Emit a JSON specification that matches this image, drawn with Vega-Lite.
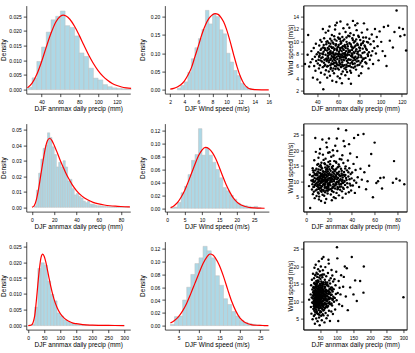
{
"$schema":"https://vega.github.io/schema/vega-lite/v6.json",
"background":"white",
"padding":{"left":0.25,"top":4.6,"right":0,"bottom":0},
"config":{"view":{"stroke":null},"font":"Liberation Sans",
"axis":{"labelFont":"Liberation Sans","titleFont":"Liberation Sans","labelFontSize":5,"titleFontSize":6.5,"titleFontWeight":"normal","labelColor":"#000","titleColor":"#000","domainColor":"#000","tickColor":"#000","domainWidth":0.7,"tickWidth":0.7,"tickSize":3,"grid":false,"labelOverlap":false,"labelFlush":false,"labelBound":false,"titlePadding":1},
"axisX":{"labelPadding":3},
"axisY":{"labelPadding":2,"titleBaseline":"middle"}},
"datasets":{
"h1":[{"a":25,"b":30,"d":0.0008},{"a":30,"b":35,"d":0.004},{"a":35,"b":40,"d":0.0096},{"a":40,"b":45,"d":0.0145},{"a":45,"b":50,"d":0.0196},{"a":50,"b":55,"d":0.0238},{"a":55,"b":60,"d":0.025},{"a":60,"b":65,"d":0.0268},{"a":65,"b":70,"d":0.0218},{"a":70,"b":75,"d":0.0212},{"a":75,"b":80,"d":0.0183},{"a":80,"b":85,"d":0.0125},{"a":85,"b":90,"d":0.0113},{"a":90,"b":95,"d":0.0073},{"a":95,"b":100,"d":0.0039},{"a":100,"b":105,"d":0.0033},{"a":105,"b":110,"d":0.0017},{"a":110,"b":115,"d":0.001},{"a":115,"b":120,"d":0.0006},{"a":120,"b":125,"d":0.0004},{"a":125,"b":130,"d":0.0003},{"a":130,"b":135,"d":0.0002}],
"c1":[{"a":25,"d":0.0006},{"a":30,"d":0.0022},{"a":35,"d":0.0052},{"a":40,"d":0.0095},{"a":45,"d":0.0145},{"a":50,"d":0.0192},{"a":55,"d":0.023},{"a":60,"d":0.025},{"a":63,"d":0.0254},{"a":66,"d":0.0251},{"a":70,"d":0.024},{"a":75,"d":0.0216},{"a":80,"d":0.0185},{"a":85,"d":0.0151},{"a":90,"d":0.0118},{"a":95,"d":0.0089},{"a":100,"d":0.0065},{"a":105,"d":0.0046},{"a":110,"d":0.0032},{"a":115,"d":0.0021},{"a":120,"d":0.0014},{"a":125,"d":0.0009},{"a":130,"d":0.0006},{"a":135,"d":0.0004}],
"h2":[{"a":3,"b":3.5,"d":0.005},{"a":3.5,"b":4,"d":0.012},{"a":4,"b":4.5,"d":0.022},{"a":4.5,"b":5,"d":0.048},{"a":5,"b":5.5,"d":0.085},{"a":5.5,"b":6,"d":0.115},{"a":6,"b":6.5,"d":0.14},{"a":6.5,"b":7,"d":0.165},{"a":7,"b":7.5,"d":0.217},{"a":7.5,"b":8,"d":0.18},{"a":8,"b":8.5,"d":0.207},{"a":8.5,"b":9,"d":0.2},{"a":9,"b":9.5,"d":0.164},{"a":9.5,"b":10,"d":0.153},{"a":10,"b":10.5,"d":0.1},{"a":10.5,"b":11,"d":0.076},{"a":11,"b":11.5,"d":0.053},{"a":11.5,"b":12,"d":0.039},{"a":12,"b":12.5,"d":0.018},{"a":12.5,"b":13,"d":0.009},{"a":13,"b":13.5,"d":0.004},{"a":13.5,"b":14,"d":0.002}],
"c2":[{"a":2,"d":0.002},{"a":2.5,"d":0.004},{"a":3,"d":0.008},{"a":3.5,"d":0.014},{"a":4,"d":0.024},{"a":4.5,"d":0.04},{"a":5,"d":0.06},{"a":5.5,"d":0.09},{"a":6,"d":0.12},{"a":6.5,"d":0.152},{"a":7,"d":0.177},{"a":7.5,"d":0.195},{"a":8,"d":0.205},{"a":8.4,"d":0.208},{"a":8.8,"d":0.206},{"a":9.2,"d":0.198},{"a":9.6,"d":0.185},{"a":10,"d":0.165},{"a":10.5,"d":0.133},{"a":11,"d":0.097},{"a":11.5,"d":0.063},{"a":12,"d":0.035},{"a":12.5,"d":0.016},{"a":13,"d":0.006},{"a":13.5,"d":0.002},{"a":14,"d":0.0006},{"a":15,"d":0.0001},{"a":16,"d":0}],
"h4":[{"a":2,"b":4,"d":0.001},{"a":4,"b":6,"d":0.011},{"a":6,"b":8,"d":0.022},{"a":8,"b":10,"d":0.031},{"a":10,"b":12,"d":0.038},{"a":12,"b":14,"d":0.04},{"a":14,"b":16,"d":0.048},{"a":16,"b":18,"d":0.045},{"a":18,"b":20,"d":0.039},{"a":20,"b":22,"d":0.034},{"a":22,"b":24,"d":0.026},{"a":24,"b":26,"d":0.029},{"a":26,"b":28,"d":0.026},{"a":28,"b":30,"d":0.03},{"a":30,"b":32,"d":0.026},{"a":32,"b":34,"d":0.017},{"a":34,"b":36,"d":0.018},{"a":36,"b":38,"d":0.012},{"a":38,"b":40,"d":0.008},{"a":40,"b":42,"d":0.009},{"a":42,"b":44,"d":0.007},{"a":44,"b":46,"d":0.006},{"a":46,"b":48,"d":0.004},{"a":48,"b":50,"d":0.003},{"a":50,"b":52,"d":0.004},{"a":52,"b":54,"d":0.002},{"a":54,"b":56,"d":0.002},{"a":56,"b":58,"d":0.0015},{"a":58,"b":60,"d":0.001},{"a":60,"b":62,"d":0.001},{"a":62,"b":64,"d":0.0008},{"a":64,"b":66,"d":0.0006},{"a":66,"b":68,"d":0.0005},{"a":68,"b":70,"d":0.0004},{"a":70,"b":72,"d":0.0003},{"a":72,"b":74,"d":0.0003},{"a":74,"b":76,"d":0.0002},{"a":76,"b":78,"d":0.0003},{"a":78,"b":80,"d":0.0002},{"a":80,"b":82,"d":0.0001},{"a":82,"b":84,"d":0.0002},{"a":84,"b":86,"d":0.0001},{"a":86,"b":88,"d":0.0001}],
"c4":[{"a":0,"d":0},{"a":2,"d":0.001},{"a":4,"d":0.005},{"a":6,"d":0.012},{"a":8,"d":0.021},{"a":10,"d":0.03},{"a":12,"d":0.038},{"a":14,"d":0.043},{"a":16,"d":0.0445},{"a":18,"d":0.043},{"a":20,"d":0.04},{"a":22,"d":0.0365},{"a":25,"d":0.031},{"a":28,"d":0.026},{"a":30,"d":0.0228},{"a":33,"d":0.0185},{"a":36,"d":0.0148},{"a":40,"d":0.0108},{"a":45,"d":0.0072},{"a":50,"d":0.0048},{"a":55,"d":0.0032},{"a":60,"d":0.0022},{"a":65,"d":0.0015},{"a":70,"d":0.001},{"a":75,"d":0.0007},{"a":80,"d":0.0005},{"a":88,"d":0.0003}],
"h5":[{"a":1,"b":2,"d":0.001},{"a":2,"b":3,"d":0.002},{"a":3,"b":4,"d":0.009},{"a":4,"b":5,"d":0.024},{"a":5,"b":6,"d":0.034},{"a":6,"b":7,"d":0.052},{"a":7,"b":8,"d":0.074},{"a":8,"b":9,"d":0.083},{"a":9,"b":10,"d":0.123},{"a":10,"b":11,"d":0.082},{"a":11,"b":12,"d":0.093},{"a":12,"b":13,"d":0.082},{"a":13,"b":14,"d":0.071},{"a":14,"b":15,"d":0.06},{"a":15,"b":16,"d":0.047},{"a":16,"b":17,"d":0.032},{"a":17,"b":18,"d":0.027},{"a":18,"b":19,"d":0.02},{"a":19,"b":20,"d":0.014},{"a":20,"b":21,"d":0.008},{"a":21,"b":22,"d":0.005},{"a":22,"b":23,"d":0.004},{"a":23,"b":24,"d":0.003},{"a":24,"b":25,"d":0.002},{"a":25,"b":26,"d":0.003},{"a":26,"b":27,"d":0.001}],
"c5":[{"a":1,"d":0.001},{"a":2,"d":0.004},{"a":3,"d":0.009},{"a":4,"d":0.017},{"a":5,"d":0.027},{"a":6,"d":0.04},{"a":7,"d":0.054},{"a":8,"d":0.068},{"a":9,"d":0.081},{"a":10,"d":0.09},{"a":11,"d":0.094},{"a":12,"d":0.092},{"a":13,"d":0.086},{"a":14,"d":0.076},{"a":15,"d":0.063},{"a":16,"d":0.049},{"a":17,"d":0.036},{"a":18,"d":0.025},{"a":19,"d":0.016},{"a":20,"d":0.01},{"a":21,"d":0.006},{"a":22,"d":0.0035},{"a":23,"d":0.002},{"a":24,"d":0.001},{"a":25,"d":0.0006},{"a":26,"d":0.0003},{"a":28,"d":0.0001}],
"h7":[{"a":10,"b":20,"d":0.0005},{"a":20,"b":30,"d":0.0058},{"a":30,"b":40,"d":0.018},{"a":40,"b":50,"d":0.0198},{"a":50,"b":60,"d":0.019},{"a":60,"b":70,"d":0.014},{"a":70,"b":80,"d":0.0098},{"a":80,"b":90,"d":0.0078},{"a":90,"b":100,"d":0.004},{"a":100,"b":110,"d":0.003},{"a":110,"b":120,"d":0.0018},{"a":120,"b":130,"d":0.0012},{"a":130,"b":140,"d":0.0008},{"a":140,"b":150,"d":0.0006},{"a":150,"b":160,"d":0.0004},{"a":160,"b":170,"d":0.0003},{"a":170,"b":180,"d":0.0003},{"a":180,"b":190,"d":0.0002},{"a":190,"b":200,"d":0.0001},{"a":200,"b":210,"d":0.0001},{"a":210,"b":220,"d":0.0001},{"a":220,"b":230,"d":0.0001},{"a":230,"b":240,"d":0.0001},{"a":240,"b":250,"d":0.0001},{"a":250,"b":260,"d":0.0001},{"a":260,"b":270,"d":0.0001},{"a":270,"b":280,"d":0.0001},{"a":280,"b":290,"d":0.0001},{"a":290,"b":300,"d":0.0001}],
"c7":[{"a":0,"d":0},{"a":10,"d":0.0002},{"a":20,"d":0.003},{"a":25,"d":0.0075},{"a":30,"d":0.013},{"a":35,"d":0.018},{"a":40,"d":0.0215},{"a":45,"d":0.0225},{"a":50,"d":0.0218},{"a":55,"d":0.02},{"a":60,"d":0.0175},{"a":65,"d":0.015},{"a":70,"d":0.0125},{"a":80,"d":0.0085},{"a":90,"d":0.0057},{"a":100,"d":0.0038},{"a":110,"d":0.0026},{"a":120,"d":0.0018},{"a":130,"d":0.0012},{"a":140,"d":0.0008},{"a":150,"d":0.0006},{"a":170,"d":0.0003},{"a":200,"d":0.00015},{"a":250,"d":0.00005},{"a":300,"d":0.00002}],
"h8":[{"a":3,"b":4,"d":0.002},{"a":4,"b":5,"d":0.014},{"a":5,"b":6,"d":0.015},{"a":6,"b":7,"d":0.04},{"a":7,"b":8,"d":0.06},{"a":8,"b":9,"d":0.08},{"a":9,"b":10,"d":0.097},{"a":10,"b":11,"d":0.106},{"a":11,"b":12,"d":0.124},{"a":12,"b":13,"d":0.117},{"a":13,"b":14,"d":0.106},{"a":14,"b":15,"d":0.078},{"a":15,"b":16,"d":0.063},{"a":16,"b":17,"d":0.042},{"a":17,"b":18,"d":0.033},{"a":18,"b":19,"d":0.022},{"a":19,"b":20,"d":0.015},{"a":20,"b":21,"d":0.008},{"a":21,"b":22,"d":0.005},{"a":22,"b":23,"d":0.003},{"a":23,"b":24,"d":0.002},{"a":24,"b":25,"d":0.001},{"a":25,"b":26,"d":0.0005}],
"c8":[{"a":3,"d":0.004},{"a":4,"d":0.008},{"a":5,"d":0.014},{"a":6,"d":0.023},{"a":7,"d":0.035},{"a":8,"d":0.05},{"a":9,"d":0.066},{"a":10,"d":0.082},{"a":11,"d":0.097},{"a":12,"d":0.108},{"a":12.7,"d":0.112},{"a":13.5,"d":0.11},{"a":14,"d":0.106},{"a":15,"d":0.094},{"a":16,"d":0.077},{"a":17,"d":0.057},{"a":18,"d":0.038},{"a":19,"d":0.023},{"a":20,"d":0.012},{"a":21,"d":0.006},{"a":22,"d":0.0028},{"a":23,"d":0.0012},{"a":24,"d":0.0005},{"a":25,"d":0.0002},{"a":26,"d":0.0001},{"a":27,"d":0}],
"s1":[{"p":28.5,"w":6.3},{"p":31,"w":7.8},{"p":32.5,"w":5.9},{"p":33.8,"w":6.6},{"p":34.5,"w":8.4},{"p":35.5,"w":7.1},{"p":36,"w":4.1},{"p":36.8,"w":8.9},{"p":37.2,"w":6},{"p":37.9,"w":7.5},{"p":38.4,"w":5.2},{"p":38.8,"w":9.6},{"p":39.1,"w":6.8},{"p":39.6,"w":7.9},{"p":31.5,"w":11},{"p":40.2,"w":3.8},{"p":40.6,"w":6.4},{"p":41,"w":8.2},{"p":41.3,"w":7},{"p":41.7,"w":5.6},{"p":42,"w":9.3},{"p":42.3,"w":7.7},{"p":42.6,"w":6.1},{"p":43,"w":10.2},{"p":43.3,"w":8.6},{"p":43.6,"w":4.9},{"p":43.9,"w":7.3},{"p":44.2,"w":9.9},{"p":44.5,"w":6.7},{"p":44.8,"w":8},{"p":42.8,"w":3.3},{"p":45.1,"w":7.4},{"p":45.3,"w":5.8},{"p":45.6,"w":9},{"p":45.8,"w":2.2},{"p":46.1,"w":8.3},{"p":46.4,"w":6.5},{"p":46.6,"w":10.5},{"p":46.9,"w":7},{"p":47.1,"w":4.6},{"p":47.4,"w":8.8},{"p":47.6,"w":6.2},{"p":47.9,"w":7.8},{"p":48.1,"w":11.4},{"p":48.3,"w":5.3},{"p":48.6,"w":9.5},{"p":48.8,"w":7.2},{"p":49,"w":6.8},{"p":49.3,"w":8.5},{"p":49.5,"w":4.1},{"p":49.7,"w":10},{"p":49.9,"w":7.6},{"p":45.4,"w":12},{"p":50.1,"w":6},{"p":50.3,"w":8.1},{"p":50.6,"w":7.3},{"p":50.8,"w":9.7},{"p":51,"w":5.1},{"p":51.2,"w":8.7},{"p":51.5,"w":6.9},{"p":51.7,"w":12.4},{"p":51.9,"w":7.9},{"p":52.1,"w":4.4},{"p":52.3,"w":10.4},{"p":52.6,"w":7},{"p":52.8,"w":8.4},{"p":53,"w":5.7},{"p":53.2,"w":9.1},{"p":53.5,"w":6.4},{"p":53.7,"w":7.6},{"p":53.9,"w":11},{"p":54.1,"w":8.9},{"p":54.3,"w":3.6},{"p":54.5,"w":6.8},{"p":54.7,"w":9.8},{"p":54.9,"w":7.4},{"p":50.5,"w":11.7},{"p":52.4,"w":6.1},{"p":53.4,"w":8},{"p":54.6,"w":5.2},{"p":55.1,"w":8.2},{"p":55.3,"w":6.3},{"p":55.5,"w":9.6},{"p":55.7,"w":7.1},{"p":55.9,"w":4.8},{"p":56.1,"w":10.8},{"p":56.3,"w":7.7},{"p":56.5,"w":8.8},{"p":56.7,"w":6},{"p":56.9,"w":11.9},{"p":57.1,"w":7.3},{"p":57.3,"w":5.5},{"p":57.5,"w":9.3},{"p":57.7,"w":8},{"p":57.9,"w":6.6},{"p":58.1,"w":3.4},{"p":58.3,"w":10.1},{"p":58.5,"w":7.5},{"p":58.6,"w":13},{"p":58.8,"w":8.5},{"p":59,"w":6.2},{"p":59.2,"w":9},{"p":59.4,"w":4.3},{"p":59.6,"w":7.9},{"p":59.8,"w":10.6},{"p":55.6,"w":7.9},{"p":57.2,"w":12.6},{"p":58,"w":5.9},{"p":60.1,"w":7.6},{"p":60.3,"w":9.4},{"p":60.5,"w":5.4},{"p":60.7,"w":8.3},{"p":60.9,"w":6.8},{"p":61.1,"w":11.2},{"p":61.3,"w":7.2},{"p":61.5,"w":4},{"p":61.7,"w":8.9},{"p":61.9,"w":6.3},{"p":62,"w":13.2},{"p":62.2,"w":10},{"p":62.4,"w":7.8},{"p":62.6,"w":5.8},{"p":62.8,"w":9.7},{"p":63,"w":7},{"p":63.2,"w":8.4},{"p":63.4,"w":3.2},{"p":63.6,"w":6.6},{"p":63.8,"w":10.7},{"p":64,"w":8},{"p":64.2,"w":5.1},{"p":64.4,"w":9.2},{"p":64.6,"w":7.4},{"p":64.8,"w":12.1},{"p":60.6,"w":6.1},{"p":61.6,"w":10.4},{"p":62.9,"w":4.7},{"p":63.9,"w":7.7},{"p":64.5,"w":6},{"p":65.1,"w":8.6},{"p":65.3,"w":6.9},{"p":65.6,"w":10.3},{"p":65.8,"w":5.6},{"p":66.1,"w":7.9},{"p":66.3,"w":9.1},{"p":66.6,"w":4.5},{"p":66.8,"w":11.5},{"p":67.1,"w":7.3},{"p":67.3,"w":8.4},{"p":67.6,"w":6.2},{"p":67.8,"w":9.9},{"p":68.1,"w":7.7},{"p":68.3,"w":5},{"p":68.6,"w":12.7},{"p":68.8,"w":8.8},{"p":69.1,"w":6.5},{"p":69.3,"w":10.9},{"p":69.6,"w":7.1},{"p":69.8,"w":3.9},{"p":65.4,"w":7.5},{"p":66.4,"w":8.1},{"p":67.4,"w":5.8},{"p":68.4,"w":9.5},{"p":69.4,"w":8.2},{"p":70.2,"w":7.8},{"p":70.5,"w":9.7},{"p":70.8,"w":6},{"p":71.1,"w":8.5},{"p":71.4,"w":11.3},{"p":71.7,"w":7},{"p":72,"w":4.9},{"p":72.3,"w":9.2},{"p":72.6,"w":8},{"p":72.9,"w":6.6},{"p":73.2,"w":10.5},{"p":73.5,"w":7.4},{"p":73.8,"w":13.3},{"p":74.1,"w":8.9},{"p":74.4,"w":5.7},{"p":74.7,"w":9.8},{"p":70.4,"w":12.2},{"p":71.2,"w":5.2},{"p":72.4,"w":7.6},{"p":73,"w":8.6},{"p":73.7,"w":6.3},{"p":74.5,"w":11},{"p":71.9,"w":3.1},{"p":75.2,"w":8.1},{"p":75.5,"w":6.4},{"p":75.8,"w":10},{"p":76.1,"w":7.5},{"p":76.4,"w":9.3},{"p":76.7,"w":5.4},{"p":77,"w":8.7},{"p":77.3,"w":11.8},{"p":77.6,"w":7.2},{"p":77.9,"w":9.6},{"p":78.2,"w":6.1},{"p":78.5,"w":8.3},{"p":78.8,"w":10.9},{"p":79.1,"w":7.8},{"p":79.4,"w":4.4},{"p":79.7,"w":9},{"p":76,"w":12.6},{"p":78,"w":12.9},{"p":75.9,"w":7},{"p":79,"w":6.8},{"p":80.3,"w":8.5},{"p":80.7,"w":10.2},{"p":81,"w":6.5},{"p":81.4,"w":9.4},{"p":81.8,"w":7.4},{"p":82.2,"w":11.4},{"p":82.6,"w":5.9},{"p":83,"w":8.8},{"p":83.4,"w":7.1},{"p":83.8,"w":10},{"p":84.2,"w":12.9},{"p":84.6,"w":8.2},{"p":81.5,"w":4.8},{"p":83.2,"w":9.7},{"p":85.3,"w":9.1},{"p":85.7,"w":7.3},{"p":86.1,"w":10.6},{"p":86.5,"w":6.4},{"p":86.9,"w":8.6},{"p":87.3,"w":11.9},{"p":87.7,"w":7.9},{"p":88.1,"w":9.8},{"p":88.5,"w":5.6},{"p":88.9,"w":8.2},{"p":89.3,"w":10.4},{"p":89.7,"w":7},{"p":90.4,"w":9.5},{"p":91,"w":7.7},{"p":91.6,"w":11.1},{"p":92.2,"w":8.4},{"p":92.8,"w":6.3},{"p":93.4,"w":10},{"p":94,"w":8.9},{"p":94.6,"w":12},{"p":95.5,"w":8},{"p":96.3,"w":10.7},{"p":97.1,"w":9.2},{"p":98,"w":6.9},{"p":99,"w":11.6},{"p":100.5,"w":9.9},{"p":101.8,"w":8.4},{"p":103,"w":12.3},{"p":104.2,"w":7.6},{"p":105.5,"w":6},{"p":107,"w":12.5},{"p":108.6,"w":10.1},{"p":111.5,"w":9},{"p":113,"w":11.5},{"p":115,"w":15},{"p":117.5,"w":12.2},{"p":118.5,"w":10.8},{"p":121,"w":12},{"p":122.5,"w":11},{"p":124,"w":8.5},
{"p":45.5,"w":7.9},{"p":46.2,"w":9.4},{"p":46.8,"w":6},{"p":47.5,"w":8.6},{"p":48.2,"w":7.1},{"p":48.7,"w":9.9},{"p":49.4,"w":5.9},{"p":50,"w":8.9},{"p":50.4,"w":7.7},{"p":51.1,"w":6.6},{"p":51.6,"w":9.2},{"p":52,"w":8.2},{"p":52.7,"w":5.5},{"p":53.1,"w":7.2},{"p":53.6,"w":10.1},{"p":54,"w":6.3},{"p":54.4,"w":8.1},{"p":55,"w":9},{"p":55.4,"w":5.6},{"p":55.8,"w":7.4},{"p":56.2,"w":8.6},{"p":56.6,"w":10.3},{"p":57,"w":6.9},{"p":57.4,"w":7.9},{"p":57.8,"w":9.5},{"p":58.2,"w":6.4},{"p":58.7,"w":8.7},{"p":59.1,"w":7.1},{"p":59.5,"w":5.6},{"p":59.9,"w":9.1},{"p":60.2,"w":8},{"p":60.6,"w":10.4},{"p":61,"w":6.5},{"p":61.4,"w":7.5},{"p":61.8,"w":8.6},{"p":62.1,"w":9.6},{"p":62.5,"w":5.9},{"p":62.9,"w":7.4},{"p":63.3,"w":9},{"p":63.7,"w":6.2},{"p":64.1,"w":8.8},{"p":64.5,"w":10.1},{"p":64.9,"w":7},{"p":65.3,"w":8},{"p":65.7,"w":6.1},{"p":66.1,"w":9.4},{"p":66.5,"w":7.6},{"p":66.9,"w":8.9},{"p":67.3,"w":5.4},{"p":67.7,"w":10.6},{"p":68.1,"w":6.8},{"p":68.5,"w":7.9},{"p":68.9,"w":9.2},{"p":69.3,"w":6},{"p":69.7,"w":8.5},{"p":70.1,"w":7},{"p":70.5,"w":10.8},{"p":70.9,"w":8.3},{"p":71.3,"w":6.4},{"p":71.7,"w":9.5},{"p":72.1,"w":7.6},{"p":72.5,"w":5.8},{"p":72.9,"w":9},{"p":73.3,"w":7.8},{"p":73.7,"w":10.2},{"p":74.1,"w":6.9},{"p":74.5,"w":8.2},{"p":74.9,"w":7.3},{"p":75.4,"w":9.1},{"p":75.9,"w":5.9},{"p":76.4,"w":8.4},{"p":76.9,"w":10.3},{"p":77.4,"w":6.7},{"p":77.9,"w":8},{"p":78.4,"w":9.4},{"p":78.9,"w":7.4},{"p":79.4,"w":10.7},{"p":79.9,"w":6.2},{"p":80.5,"w":8.9},{"p":81.1,"w":7.7},{"p":81.7,"w":9.6},{"p":82.3,"w":6.8},{"p":82.9,"w":8.1},{"p":83.5,"w":10.6},{"p":84.1,"w":7.2},{"p":84.8,"w":9.3},{"p":85.5,"w":6.6},{"p":86.2,"w":8.8},{"p":87,"w":9.9},{"p":88,"w":7.6},{"p":44,"w":8.8},{"p":43.2,"w":6.9},{"p":42.5,"w":8},{"p":41.8,"w":7.5},{"p":46.9,"w":8.9},{"p":49.8,"w":7},{"p":52.5,"w":9.6},{"p":56,"w":6.5},{"p":61.2,"w":7.9},{"p":67,"w":7.2}],
"s2":[{"p":2.5,"w":8.4},{"p":3.2,"w":12.1},{"p":3.5,"w":1.3},{"p":4.6,"w":10.2},{"p":5.1,"w":7.3},{"p":5.3,"w":11.6},{"p":5.5,"w":9},{"p":5.7,"w":14.2},{"p":5.9,"w":5.8},{"p":6.1,"w":10.4},{"p":6.3,"w":8.1},{"p":6.5,"w":12.9},{"p":6.7,"w":6.6},{"p":6.9,"w":9.7},{"p":7.1,"w":16.8},{"p":7.3,"w":11},{"p":7.5,"w":4.5},{"p":7.7,"w":8.7},{"p":7.9,"w":13.5},{"p":8.1,"w":10.1},{"p":8.3,"w":7},{"p":8.5,"w":19.5},{"p":8.7,"w":11.9},{"p":8.9,"w":9.3},{"p":9.1,"w":5.2},{"p":9.3,"w":12.5},{"p":9.5,"w":8.4},{"p":9.7,"w":15.3},{"p":9.9,"w":10.7},{"p":8,"w":24},{"p":10.1,"w":9.6},{"p":10.2,"w":13.1},{"p":10.4,"w":6.3},{"p":10.5,"w":11.2},{"p":10.7,"w":8},{"p":10.8,"w":17.6},{"p":11,"w":10.3},{"p":11.1,"w":7.5},{"p":11.3,"w":12.7},{"p":11.4,"w":5},{"p":11.6,"w":9.1},{"p":11.7,"w":14.8},{"p":11.9,"w":11.5},{"p":12,"w":8.6},{"p":12.2,"w":20.4},{"p":12.3,"w":10},{"p":12.5,"w":6.9},{"p":12.6,"w":13.6},{"p":12.8,"w":9.4},{"p":12.9,"w":12},{"p":13.1,"w":3.6},{"p":13.2,"w":10.8},{"p":13.4,"w":16},{"p":13.5,"w":8.3},{"p":13.7,"w":11.7},{"p":13.8,"w":7.2},{"p":14,"w":14.1},{"p":14.1,"w":9.8},{"p":14.3,"w":12.4},{"p":14.4,"w":5.6},{"p":14.6,"w":10.5},{"p":14.7,"w":18.6},{"p":14.9,"w":8.9},{"p":10.6,"w":15.6},{"p":11.2,"w":4.1},{"p":11.8,"w":19},{"p":12.4,"w":11},{"p":13,"w":7.9},{"p":13.6,"w":12.2},{"p":14.2,"w":23.5},{"p":14.8,"w":11.4},{"p":10.9,"w":9.9},{"p":12.7,"w":15.2},{"p":13.9,"w":10.2},{"p":15.1,"w":10},{"p":15.2,"w":7.1},{"p":15.4,"w":13},{"p":15.5,"w":9.2},{"p":15.7,"w":11.8},{"p":15.8,"w":5.3},{"p":16,"w":15.8},{"p":16.1,"w":8.5},{"p":16.3,"w":12.3},{"p":16.4,"w":10.6},{"p":16.6,"w":6.4},{"p":16.7,"w":14.4},{"p":16.9,"w":9.5},{"p":17,"w":17.3},{"p":17.2,"w":11.1},{"p":17.3,"w":8},{"p":17.5,"w":13.7},{"p":17.6,"w":4.2},{"p":17.8,"w":10.4},{"p":17.9,"w":12.8},{"p":18.1,"w":7.7},{"p":18.2,"w":21},{"p":18.4,"w":9.8},{"p":18.5,"w":15},{"p":18.7,"w":11.5},{"p":18.8,"w":6},{"p":19,"w":13.2},{"p":19.1,"w":8.8},{"p":19.3,"w":19.2},{"p":19.4,"w":10.9},{"p":19.6,"w":7.4},{"p":19.7,"w":12},{"p":19.9,"w":9},{"p":15.3,"w":16.9},{"p":15.9,"w":11.3},{"p":16.5,"w":3},{"p":17.1,"w":9.7},{"p":17.7,"w":22.5},{"p":18.3,"w":13.9},{"p":18.9,"w":10.3},{"p":19.5,"w":16.2},{"p":16.2,"w":7.9},{"p":17.4,"w":12.1},{"p":18.6,"w":8.3},{"p":19.8,"w":14.7},{"p":20,"w":23.8},{"p":20.2,"w":9.4},{"p":20.4,"w":12.6},{"p":20.6,"w":7.3},{"p":20.8,"w":11},{"p":21,"w":15.5},{"p":21.2,"w":8.7},{"p":21.4,"w":13.4},{"p":21.6,"w":5.7},{"p":21.8,"w":10.2},{"p":22,"w":17.9},{"p":22.2,"w":9.9},{"p":22.4,"w":12.2},{"p":22.6,"w":6.8},{"p":22.8,"w":14.3},{"p":23,"w":10.7},{"p":23.2,"w":8.2},{"p":23.4,"w":20},{"p":23.6,"w":11.6},{"p":23.8,"w":9},{"p":24,"w":13.8},{"p":24.2,"w":4.8},{"p":24.4,"w":10.5},{"p":24.6,"w":16.5},{"p":24.8,"w":8.5},{"p":20.5,"w":19.4},{"p":21.5,"w":11.9},{"p":22.5,"w":3.8},{"p":23.5,"w":14.9},{"p":24.5,"w":12.4},{"p":21.1,"w":10.1},{"p":22.9,"w":7.7},{"p":23.9,"w":18.3},{"p":24.9,"w":11.2},{"p":25.2,"w":10.8},{"p":25.4,"w":7.6},{"p":25.6,"w":13.6},{"p":25.9,"w":9.3},{"p":26.1,"w":16.3},{"p":26.3,"w":11.4},{"p":26.6,"w":6.2},{"p":26.8,"w":12.7},{"p":27,"w":9.7},{"p":27.3,"w":19.8},{"p":27.5,"w":8.1},{"p":27.7,"w":14.5},{"p":28,"w":11},{"p":28.2,"w":27},{"p":28.4,"w":10},{"p":28.7,"w":5.4},{"p":28.9,"w":13.1},{"p":29.1,"w":8.9},{"p":29.4,"w":17.2},{"p":29.6,"w":11.8},{"p":29.8,"w":7.2},{"p":25.5,"w":21.5},{"p":26.5,"w":9},{"p":27.4,"w":12.3},{"p":28.5,"w":15.4},{"p":29.5,"w":10.4},{"p":25.8,"w":4.5},{"p":27.9,"w":7.8},{"p":26.9,"w":23.8},{"p":29,"w":12},{"p":30.2,"w":10.6},{"p":30.5,"w":14},{"p":30.8,"w":8.3},{"p":31.1,"w":12.5},{"p":31.4,"w":6.7},{"p":31.7,"w":18.4},{"p":32,"w":11.2},{"p":32.3,"w":9.4},{"p":32.6,"w":15.9},{"p":32.9,"w":7.5},{"p":33.2,"w":13},{"p":33.5,"w":10.1},{"p":33.8,"w":21.3},{"p":34.1,"w":8.8},{"p":34.4,"w":12},{"p":34.7,"w":5.9},{"p":30.9,"w":17},{"p":31.9,"w":4.6},{"p":32.8,"w":23},{"p":33.7,"w":11.7},{"p":34.6,"w":14.8},{"p":35,"w":26.5},{"p":31.2,"w":9.9},{"p":35.4,"w":10.4},{"p":35.8,"w":13.5},{"p":36.2,"w":8},{"p":36.6,"w":16.7},{"p":37,"w":11.5},{"p":37.4,"w":6.4},{"p":37.8,"w":14.2},{"p":38.2,"w":9.2},{"p":38.6,"w":19},{"p":39,"w":12.3},{"p":39.4,"w":7},{"p":39.8,"w":10.9},{"p":37.6,"w":22},{"p":40.3,"w":12.8},{"p":40.9,"w":8.6},{"p":41.5,"w":15.6},{"p":42.1,"w":10.2},{"p":42,"w":24},{"p":42.7,"w":6.2},{"p":43.3,"w":13.6},{"p":43.9,"w":9.5},{"p":44.5,"w":17.8},{"p":45.2,"w":11.3},{"p":45.5,"w":25},{"p":46.4,"w":8.1},{"p":47.6,"w":14},{"p":48.8,"w":10.5},{"p":50.3,"w":25.3},{"p":51,"w":12.9},{"p":52.5,"w":7.4},{"p":53.8,"w":10},{"p":55.2,"w":15},{"p":57,"w":18.8},{"p":58.5,"w":4.8},{"p":60,"w":22.5},{"p":61.5,"w":9.4},{"p":63,"w":10},{"p":65,"w":11},{"p":66.5,"w":7.6},{"p":68,"w":11.2},{"p":76,"w":9.5},{"p":77,"w":16.5},{"p":79,"w":10.8},{"p":82,"w":10.2},{"p":86,"w":9},
{"p":5.8,"w":9.9},{"p":6.4,"w":11.8},{"p":7,"w":8.2},{"p":7.6,"w":12.3},{"p":8.2,"w":9},{"p":8.8,"w":10.8},{"p":9.4,"w":7.3},{"p":10,"w":12},{"p":10.3,"w":8.8},{"p":10.9,"w":13.8},{"p":11.5,"w":10.6},{"p":12.1,"w":7.7},{"p":12.5,"w":12.6},{"p":13,"w":9.7},{"p":13.3,"w":14.5},{"p":13.9,"w":8.4},{"p":14.4,"w":11.1},{"p":14.8,"w":13.2},{"p":15.3,"w":6.9},{"p":15.6,"w":10.3},{"p":16,"w":12},{"p":16.4,"w":8.9},{"p":16.8,"w":13.1},{"p":17.2,"w":10},{"p":17.6,"w":7},{"p":18,"w":11.7},{"p":18.4,"w":14.2},{"p":18.8,"w":9.1},{"p":19.2,"w":12.4},{"p":19.6,"w":8.1},{"p":20.1,"w":10.8},{"p":20.5,"w":13.9},{"p":20.9,"w":9.6},{"p":21.3,"w":12},{"p":21.7,"w":7.5},{"p":22.1,"w":11.3},{"p":22.5,"w":14.6},{"p":22.9,"w":9.9},{"p":23.3,"w":12.9},{"p":23.7,"w":8},{"p":24.1,"w":11.5},{"p":24.5,"w":10},{"p":25,"w":13.2},{"p":25.5,"w":8.7},{"p":26,"w":11.9},{"p":26.5,"w":14},{"p":27,"w":10.6},{"p":27.5,"w":7.4},{"p":28,"w":12.6},{"p":28.5,"w":9.5},{"p":29,"w":14.8},{"p":29.5,"w":8.2},{"p":30,"w":11.6},{"p":30.6,"w":9.1},{"p":31.2,"w":13.4},{"p":31.8,"w":10.4},{"p":32.4,"w":7.9},{"p":33,"w":12.1},{"p":33.6,"w":9.8},{"p":34.2,"w":14.1},{"p":35,"w":11},{"p":36,"w":9.3},{"p":37,"w":12.9},{"p":38,"w":10.6},{"p":39,"w":8.6},{"p":6,"w":13.5},{"p":9,"w":14},{"p":11,"w":6},{"p":13.5,"w":6.6},{"p":16.6,"w":15.5},{"p":19,"w":6.9},{"p":21,"w":16.5},{"p":24,"w":6.5},{"p":26.4,"w":16},{"p":12,"w":11.4},{"p":15,"w":11.9},{"p":18.2,"w":10.5},{"p":22,"w":10.6},{"p":27.8,"w":11.1},{"p":31.5,"w":11.9}],
"s3":[{"p":17,"w":10.5},{"p":21.5,"w":12},{"p":22.3,"w":8.4},{"p":23.1,"w":14.6},{"p":23.9,"w":6.5},{"p":24.6,"w":11.1},{"p":25.4,"w":16.2},{"p":26,"w":9.7},{"p":26.7,"w":13.4},{"p":27.3,"w":4.9},{"p":27.9,"w":10.8},{"p":28.5,"w":17.9},{"p":29.2,"w":12.6},{"p":29.8,"w":7.8},{"p":30.2,"w":11.4},{"p":30.4,"w":14.1},{"p":30.7,"w":8.6},{"p":30.9,"w":12.9},{"p":31.2,"w":5.8},{"p":31.4,"w":10.2},{"p":31.7,"w":16.6},{"p":31.9,"w":9.1},{"p":32.2,"w":13.7},{"p":32.4,"w":7.3},{"p":32.7,"w":11.9},{"p":32.9,"w":19.6},{"p":33.2,"w":10.5},{"p":33.4,"w":15.3},{"p":33.7,"w":8.1},{"p":33.9,"w":12.4},{"p":34.2,"w":3.6},{"p":34.4,"w":11},{"p":34.7,"w":14.9},{"p":34.9,"w":9.6},{"p":35.2,"w":17.4},{"p":35.4,"w":12.2},{"p":35.7,"w":6.9},{"p":35.9,"w":10.9},{"p":36.2,"w":13.3},{"p":36.4,"w":8.8},{"p":36.7,"w":20.5},{"p":36.9,"w":11.6},{"p":37.2,"w":7.7},{"p":37.4,"w":14.4},{"p":37.7,"w":10},{"p":37.9,"w":12.8},{"p":38.2,"w":5.1},{"p":38.4,"w":15.8},{"p":38.7,"w":9.3},{"p":38.9,"w":11.3},{"p":39.2,"w":18.2},{"p":39.4,"w":8.3},{"p":39.7,"w":13},{"p":39.9,"w":10.6},{"p":40.1,"w":12.1},{"p":40.3,"w":7},{"p":40.6,"w":15.1},{"p":40.8,"w":9.8},{"p":41,"w":11.5},{"p":41.3,"w":17},{"p":41.5,"w":8.7},{"p":41.7,"w":13.6},{"p":42,"w":10.3},{"p":42.2,"w":4.3},{"p":42.4,"w":12.6},{"p":42.7,"w":16},{"p":42.9,"w":9},{"p":43.1,"w":11.8},{"p":43.3,"w":14.3},{"p":43.6,"w":6.4},{"p":43.8,"w":10.7},{"p":44,"w":19.2},{"p":44.2,"w":12.9},{"p":44.5,"w":8.2},{"p":44.7,"w":13.9},{"p":44.9,"w":11.1},{"p":45.1,"w":9.5},{"p":45.4,"w":15.6},{"p":45.6,"w":7.5},{"p":45.8,"w":12.3},{"p":46,"w":21.5},{"p":46.3,"w":10.1},{"p":46.5,"w":13.2},{"p":46.7,"w":5.4},{"p":46.9,"w":11.7},{"p":47.2,"w":16.8},{"p":47.4,"w":9.2},{"p":47.6,"w":12.5},{"p":47.8,"w":8},{"p":48.1,"w":14.7},{"p":48.3,"w":10.8},{"p":48.5,"w":3.2},{"p":48.7,"w":13},{"p":49,"w":18.6},{"p":49.2,"w":9.9},{"p":49.4,"w":11.4},{"p":49.6,"w":6.8},{"p":49.8,"w":14},{"p":50.1,"w":10.4},{"p":50.4,"w":13.5},{"p":50.6,"w":8.4},{"p":50.9,"w":16.4},{"p":51.1,"w":11.9},{"p":51.4,"w":7.2},{"p":51.6,"w":12.8},{"p":51.9,"w":9.7},{"p":52.1,"w":20},{"p":52.4,"w":11.2},{"p":52.6,"w":14.5},{"p":52.9,"w":5.9},{"p":53.1,"w":10.6},{"p":53.4,"w":13.1},{"p":53.6,"w":8.9},{"p":53.9,"w":17.5},{"p":54.1,"w":12.2},{"p":54.4,"w":9.4},{"p":54.6,"w":15.2},{"p":54.9,"w":4.6},{"p":55.1,"w":11.6},{"p":55.4,"w":22.2},{"p":55.6,"w":10},{"p":55.9,"w":13.8},{"p":56.1,"w":7.8},{"p":56.4,"w":12.7},{"p":56.6,"w":16.9},{"p":56.9,"w":9.1},{"p":57.1,"w":11},{"p":57.4,"w":14.2},{"p":57.6,"w":6.3},{"p":57.9,"w":10.9},{"p":58.1,"w":18.9},{"p":58.4,"w":12.4},{"p":58.6,"w":8.6},{"p":58.9,"w":13.4},{"p":59.1,"w":10.2},{"p":59.4,"w":15.5},{"p":59.6,"w":7.4},{"p":59.9,"w":11.8},{"p":60,"w":22.7},{"p":60.3,"w":12},{"p":60.6,"w":9},{"p":61,"w":14.8},{"p":61.3,"w":10.7},{"p":61.6,"w":17.7},{"p":62,"w":7.6},{"p":62.3,"w":12.9},{"p":62.6,"w":11.3},{"p":63,"w":4},{"p":63.3,"w":13.7},{"p":63.6,"w":9.6},{"p":64,"w":16.2},{"p":64.3,"w":11.5},{"p":64.6,"w":8.1},{"p":65,"w":14.1},{"p":65.3,"w":10.3},{"p":65.6,"w":19.8},{"p":66,"w":12.6},{"p":66.3,"w":6.7},{"p":66.6,"w":11},{"p":67,"w":15},{"p":67.3,"w":9.3},{"p":67.6,"w":13.3},{"p":68,"w":8.5},{"p":68.3,"w":17.2},{"p":68.6,"w":11.7},{"p":69,"w":5.2},{"p":69.3,"w":12.3},{"p":69.6,"w":10},{"p":69.9,"w":14.6},{"p":70.4,"w":11.6},{"p":70.9,"w":8.3},{"p":71.4,"w":15.4},{"p":71.9,"w":10.5},{"p":72.4,"w":13},{"p":72.9,"w":6},{"p":73.4,"w":18.1},{"p":73.9,"w":12.2},{"p":74.4,"w":9.5},{"p":74.9,"w":14.3},{"p":75.4,"w":10.9},{"p":75.9,"w":20.8},{"p":76.4,"w":7.3},{"p":76.9,"w":12.7},{"p":77.4,"w":16},{"p":77.9,"w":9.8},{"p":78.4,"w":13.6},{"p":78.9,"w":11.1},{"p":79.4,"w":4.4},{"p":79.9,"w":15.1},{"p":75,"w":21.9},{"p":80.5,"w":12.5},{"p":81.1,"w":9.2},{"p":81.7,"w":16.6},{"p":82.3,"w":10.8},{"p":82.9,"w":14},{"p":83.5,"w":7.1},{"p":84.1,"w":19},{"p":84.7,"w":11.9},{"p":85.3,"w":13.2},{"p":85.9,"w":8.8},{"p":86.5,"w":17.4},{"p":87.1,"w":10.4},{"p":87.7,"w":12.8},{"p":88.3,"w":6.4},{"p":88.9,"w":15.7},{"p":89.5,"w":11.3},{"p":90.6,"w":13.5},{"p":91.7,"w":9.9},{"p":92.8,"w":16.3},{"p":93.9,"w":11},{"p":95,"w":7.7},{"p":96.1,"w":14.6},{"p":97.2,"w":12.1},{"p":98.3,"w":18.5},{"p":99.4,"w":10.3},{"p":100.5,"w":25.5},{"p":101.5,"w":22.3},{"p":102.8,"w":12.4},{"p":104.2,"w":4.4},{"p":105.6,"w":15.8},{"p":107,"w":9.2},{"p":108.4,"w":13.9},{"p":111,"w":12},{"p":113,"w":17.5},{"p":116,"w":8.7},{"p":119,"w":14.2},{"p":121,"w":17},{"p":124,"w":20},{"p":127,"w":11.4},{"p":130,"w":19.5},{"p":133,"w":7.5},{"p":140,"w":14},{"p":145,"w":22.7},{"p":150,"w":12},{"p":155,"w":16},{"p":160,"w":10.1},{"p":170,"w":15.8},{"p":180,"w":12.5},{"p":181,"w":20},{"p":300,"w":11.2},
{"p":28.2,"w":11.7},{"p":29,"w":9.5},{"p":29.6,"w":14},{"p":30.5,"w":10},{"p":31,"w":12.2},{"p":31.6,"w":8},{"p":32.1,"w":15.2},{"p":32.6,"w":10.8},{"p":33,"w":13},{"p":33.5,"w":9.1},{"p":34,"w":11.7},{"p":34.5,"w":14},{"p":35,"w":8.5},{"p":35.5,"w":12.9},{"p":36,"w":10.4},{"p":36.5,"w":15},{"p":37,"w":9.6},{"p":37.5,"w":12},{"p":38,"w":13.9},{"p":38.5,"w":7.6},{"p":39,"w":11},{"p":39.5,"w":14.8},{"p":40,"w":9.2},{"p":40.5,"w":12.6},{"p":41,"w":10},{"p":41.5,"w":15.4},{"p":42,"w":8.4},{"p":42.5,"w":11.2},{"p":43,"w":13.4},{"p":43.5,"w":9.7},{"p":44,"w":12},{"p":44.5,"w":15.9},{"p":45,"w":10.5},{"p":45.5,"w":13.6},{"p":46,"w":8.7},{"p":46.5,"w":11.4},{"p":47,"w":14.5},{"p":47.5,"w":10.3},{"p":48,"w":12.9},{"p":48.5,"w":9},{"p":49,"w":11.9},{"p":49.5,"w":15},{"p":50,"w":12.5},{"p":50.5,"w":9.6},{"p":51,"w":14},{"p":51.5,"w":11},{"p":52,"w":8.2},{"p":52.5,"w":13.2},{"p":53,"w":10.9},{"p":53.5,"w":15.7},{"p":54,"w":9.9},{"p":54.5,"w":12.6},{"p":55,"w":13.9},{"p":55.5,"w":8.8},{"p":56,"w":11.3},{"p":56.5,"w":14.7},{"p":57,"w":10.1},{"p":57.5,"w":12.9},{"p":58,"w":9.4},{"p":58.5,"w":15.1},{"p":59,"w":11.6},{"p":59.5,"w":13},{"p":60,"w":8.3},{"p":61,"w":12.2},{"p":62,"w":10.5},{"p":63,"w":14.2},{"p":64,"w":9.2},{"p":65,"w":12},{"p":66,"w":15.5},{"p":67,"w":10.7},{"p":68,"w":13.1},{"p":69,"w":9},{"p":70,"w":12.8},{"p":71,"w":10.2},{"p":72,"w":14.8},{"p":73,"w":11.4},{"p":74,"w":8.7},{"p":75,"w":13.1},{"p":76,"w":10.6},{"p":77,"w":12.2},{"p":78,"w":9.3},{"p":80,"w":13.5},{"p":82,"w":11.8},{"p":84,"w":9.4},{"p":86,"w":13.9},{"p":88,"w":10.7},{"p":34,"w":6.2},{"p":40.5,"w":6.6},{"p":47,"w":6.2},{"p":53,"w":7},{"p":60,"w":6},{"p":36,"w":17.6},{"p":43,"w":17.8},{"p":50,"w":17.4},{"p":57,"w":17.7}]
},
"columns":3,
"bounds":"flush",
"spacing":{"row":30,"column":34.6},
"concat":[
{"width":104,"height":88,
 "encoding":{"x":{"field":"a","type":"quantitative","title":"DJF annmax daily precip (mm)","scale":{"domain":[23.77,134.1],"nice":false,"zero":false},"axis":{"values":[40,60,80,100,120]}},
  "y":{"field":"d","type":"quantitative","title":"Density","scale":{"domain":[-0.00136,0.02865],"nice":false,"zero":false},"axis":{"values":[0,0.005,0.01,0.015,0.02,0.025],"format":".3f","titleX":-22.5}}},
 "layer":[{"data":{"name":"h1"},"mark":{"type":"bar","fill":"#ADD8E6","stroke":"#bebebe","strokeWidth":0.5,"opacity":1},"encoding":{"x2":{"field":"b"},"y2":{"datum":0}}},
  {"data":{"name":"c1"},"mark":{"type":"line","color":"#ff0000","strokeWidth":1.2,"interpolate":"monotone"}}]},
{"width":104,"height":88,
 "encoding":{"x":{"field":"a","type":"quantitative","title":"DJF Wind speed (m/s)","scale":{"domain":[1.233,16.014],"nice":false,"zero":false},"axis":{"values":[2,4,6,8,10,12,14,16]}},
  "y":{"field":"d","type":"quantitative","title":"Density","scale":{"domain":[-0.0101,0.23],"nice":false,"zero":false},"axis":{"values":[0,0.05,0.1,0.15,0.2],"format":".2f","titleX":-22.5}}},
 "layer":[{"data":{"name":"h2"},"mark":{"type":"bar","fill":"#ADD8E6","stroke":"#bebebe","strokeWidth":0.5,"opacity":1},"encoding":{"x2":{"field":"b"},"y2":{"datum":0}}},
  {"data":{"name":"c2"},"mark":{"type":"line","color":"#ff0000","strokeWidth":1.2,"interpolate":"monotone"}}]},
{"width":103.4,"height":88,"view":{"stroke":"#000","strokeWidth":0.8},
 "data":{"name":"s1"},"mark":{"type":"circle","size":6,"color":"#000","opacity":1},
 "encoding":{"x":{"field":"p","type":"quantitative","title":"DJF annmax daily precip (mm)","scale":{"domain":[27.06,124.7],"nice":false,"zero":false},"axis":{"values":[40,60,80,100,120]}},
  "y":{"field":"w","type":"quantitative","title":"Wind speed (m/s)","scale":{"domain":[1.51,15.78],"nice":false,"zero":false},"axis":{"values":[2,4,6,8,10,12,14],"titleX":-12.6}}}},
{"width":104,"height":88,
 "encoding":{"x":{"field":"a","type":"quantitative","title":"DJF annmax daily precip (mm)","scale":{"domain":[-5.12,88.36],"nice":false,"zero":false},"axis":{"values":[0,20,40,60,80]}},
  "y":{"field":"d","type":"quantitative","title":"Density","scale":{"domain":[-0.00277,0.05393],"nice":false,"zero":false},"axis":{"values":[0,0.01,0.02,0.03,0.04,0.05],"format":".2f","titleX":-22.5}}},
 "layer":[{"data":{"name":"h4"},"mark":{"type":"bar","fill":"#ADD8E6","stroke":"#bebebe","strokeWidth":0.5,"opacity":1},"encoding":{"x2":{"field":"b"},"y2":{"datum":0}}},
  {"data":{"name":"c4"},"mark":{"type":"line","color":"#ff0000","strokeWidth":1.2,"interpolate":"monotone"}}]},
{"width":104,"height":88,
 "encoding":{"x":{"field":"a","type":"quantitative","title":"DJF Wind speed (m/s)","scale":{"domain":[-0.66,29.22],"nice":false,"zero":false},"axis":{"values":[0,5,10,15,20,25]}},
  "y":{"field":"d","type":"quantitative","title":"Density","scale":{"domain":[-0.0051,0.1308],"nice":false,"zero":false},"axis":{"values":[0,0.02,0.04,0.06,0.08,0.1,0.12],"format":".2f","titleX":-22.5}}},
 "layer":[{"data":{"name":"h5"},"mark":{"type":"bar","fill":"#ADD8E6","stroke":"#bebebe","strokeWidth":0.5,"opacity":1},"encoding":{"x2":{"field":"b"},"y2":{"datum":0}}},
  {"data":{"name":"c5"},"mark":{"type":"line","color":"#ff0000","strokeWidth":1.2,"interpolate":"monotone"}}]},
{"width":103.4,"height":88,"view":{"stroke":"#000","strokeWidth":0.8},
 "data":{"name":"s2"},"mark":{"type":"circle","size":6,"color":"#000","opacity":1},
 "encoding":{"x":{"field":"p","type":"quantitative","title":"DJF annmax daily precip (mm)","scale":{"domain":[-2.37,88.24],"nice":false,"zero":false},"axis":{"values":[0,20,40,60,80]}},
  "y":{"field":"w","type":"quantitative","title":"Wind speed (m/s)","scale":{"domain":[0.14,28.66],"nice":false,"zero":false},"axis":{"values":[5,10,15,20,25],"titleX":-12.6}}}},
{"width":104,"height":88,
 "encoding":{"x":{"field":"a","type":"quantitative","title":"DJF annmax daily precip (mm)","scale":{"domain":[-6.25,318.75],"nice":false,"zero":false},"axis":{"values":[0,50,100,150,200,250,300]}},
  "y":{"field":"d","type":"quantitative","title":"Density","scale":{"domain":[-0.00126,0.02648],"nice":false,"zero":false},"axis":{"values":[0,0.005,0.01,0.015,0.02,0.025],"format":".3f","titleX":-22.5}}},
 "layer":[{"data":{"name":"h7"},"mark":{"type":"bar","fill":"#ADD8E6","stroke":"#bebebe","strokeWidth":0.5,"opacity":1},"encoding":{"x2":{"field":"b"},"y2":{"datum":0}}},
  {"data":{"name":"c7"},"mark":{"type":"line","color":"#ff0000","strokeWidth":1.2,"interpolate":"monotone"}}]},
{"width":104,"height":88,
 "encoding":{"x":{"field":"a","type":"quantitative","title":"DJF Wind speed (m/s)","scale":{"domain":[1.646,27.105],"nice":false,"zero":false},"axis":{"values":[5,10,15,20,25]}},
  "y":{"field":"d","type":"quantitative","title":"Density","scale":{"domain":[-0.00626,0.1314],"nice":false,"zero":false},"axis":{"values":[0,0.02,0.04,0.06,0.08,0.1,0.12],"format":".2f","titleX":-22.5}}},
 "layer":[{"data":{"name":"h8"},"mark":{"type":"bar","fill":"#ADD8E6","stroke":"#bebebe","strokeWidth":0.5,"opacity":1},"encoding":{"x2":{"field":"b"},"y2":{"datum":0}}},
  {"data":{"name":"c8"},"mark":{"type":"line","color":"#ff0000","strokeWidth":1.2,"interpolate":"monotone"}}]},
{"width":103.4,"height":88,"view":{"stroke":"#000","strokeWidth":0.8},
 "data":{"name":"s3"},"mark":{"type":"circle","size":6,"color":"#000","opacity":1},
 "encoding":{"x":{"field":"p","type":"quantitative","title":"DJF annmax daily precip (mm)","scale":{"domain":[-0.12,310.2],"nice":false,"zero":false},"axis":{"values":[50,100,150,200,250,300]}},
  "y":{"field":"w","type":"quantitative","title":"Wind speed (m/s)","scale":{"domain":[1.94,27.09],"nice":false,"zero":false},"axis":{"values":[5,10,15,20,25],"titleX":-12.6}}}}
]
}
